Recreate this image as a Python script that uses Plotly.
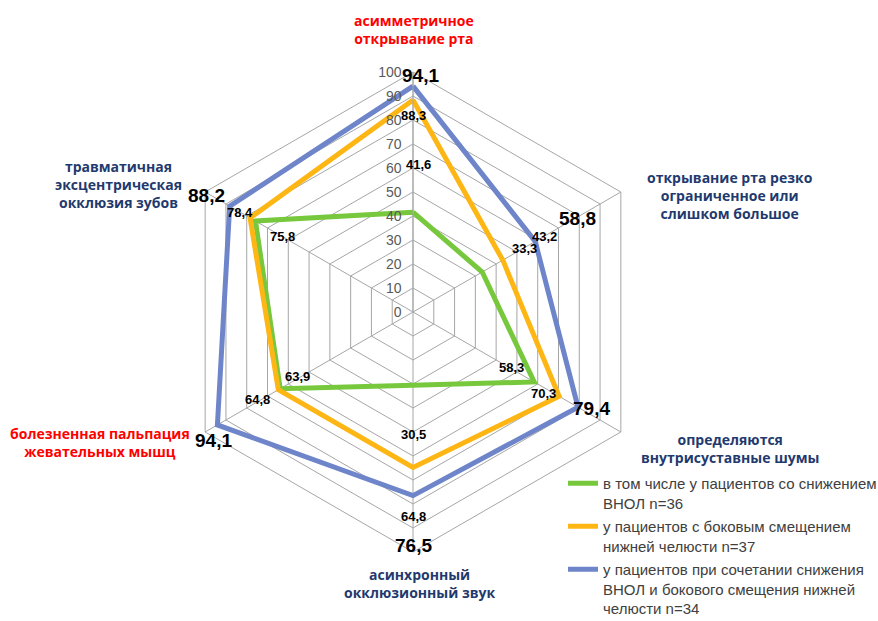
import math
import plotly.graph_objects as go

# ---------------- data ----------------
categories = [
    "асимметричное открывание рта",
    "открывание рта резко ограниченное или слишком большое",
    "определяются внутрисуставные шумы",
    "асинхронный окклюзионный звук",
    "болезненная пальпация жевательных мышц",
    "травматичная эксцентрическая окклюзия зубов",
]
series_names = [
    "в том числе у пациентов со снижением<br>ВНОЛ n=36",
    "у пациентов с боковым смещением<br>нижней челюсти n=37",
    "у пациентов при сочетании снижения<br>ВНОЛ и бокового смещения нижней<br>челюсти n=34",
]
green_values = [41.6, 33.3, 58.3, 30.5, 63.9, 75.8]
orange_values = [88.3, 43.2, 70.3, 64.8, 64.8, 78.4]
blue_values = [94.1, 58.8, 79.4, 76.5, 94.1, 88.2]
radial_ticks = [0, 10, 20, 30, 40, 50, 60, 70, 80, 90, 100]

# ---------------- styles / layout ----------------
W, H = 878, 621
CX, CY, R = 413, 312, 240
colors = ["#77C83C", "#FDB614", "#6E85CA"]
angles = [90, 30, -30, -90, -150, 150]

cat_label_text = [
    "асимметричное<br>открывание рта",
    "открывание рта резко<br>ограниченное или<br>слишком большое",
    "определяются<br>внутрисуставные шумы",
    "асинхронный<br>окклюзионный звук",
    "болезненная пальпация<br>жевательных мышц",
    "травматичная<br>эксцентрическая<br>окклюзия зубов",
]
cat_label_pos = [(414, 30), (730, 195), (730, 448), (420, 583), (100, 442), (118, 184)]
cat_label_color = ["#FF0000", "#1F3A6E", "#1F3A6E", "#1F3A6E", "#FF0000", "#1F3A6E"]

# pixel offsets of value labels from their vertices
offsets = [
    [(5, -48), (42, -24), (-23, -14), (0, 49), (17, -12), (27, 15)],     # green
    [(0, 15), (42, -24), (-16, -3), (0, 49), (-21, 10), (-10, -5)],      # orange
    [(7, -11), (42, -23), (13, 1), (0, 50), (-4, 16), (-23, -11)],       # blue
]
label_sizes = [13, 13, 19]

all_values = [green_values, orange_values, blue_values]

fig = go.Figure()
for name, vals, col in zip(series_names, all_values, colors):
    fig.add_trace(go.Scatterpolar(
        r=vals + vals[:1],
        theta=categories + categories[:1],
        mode="lines",
        name=name,
        line=dict(color=col, width=5),
        legendgroup=name,
    ))

annotations = []
for txt, (px, py), col in zip(cat_label_text, cat_label_pos, cat_label_color):
    annotations.append(dict(
        x=px / W, y=1 - py / H, xref="paper", yref="paper",
        text=f"<b>{txt}</b>", showarrow=False, align="center",
        font=dict(family="Open Sans", size=14, color=col),
        xanchor="center", yanchor="middle",
    ))

for si, vals in enumerate(all_values):
    for ci, v in enumerate(vals):
        a = math.radians(angles[ci])
        px = CX + R * v / 100 * math.cos(a)
        py = CY - R * v / 100 * math.sin(a)
        dx, dy = offsets[si][ci]
        annotations.append(dict(
            x=(px + dx) / W, y=1 - (py + dy) / H, xref="paper", yref="paper",
            text=f"<b>{str(v).replace('.', ',')}</b>", showarrow=False,
            font=dict(family="Liberation Sans", size=label_sizes[si], color="#000000"),
            xanchor="center", yanchor="middle",
        ))

fig.update_layout(
    width=W, height=H,
    margin=dict(l=0, r=0, t=0, b=0, autoexpand=False),
    paper_bgcolor="white",
    plot_bgcolor="white",
    polar=dict(
        domain=dict(x=[(CX - R) / W, (CX + R) / W], y=[(H - CY - R) / H, (H - CY + R) / H]),
        gridshape="linear",
        bgcolor="white",
        radialaxis=dict(
            range=[0, 100], tickvals=radial_ticks, ticktext=[str(t) for t in radial_ticks],
            angle=90, tickangle=90, side="counterclockwise",
            showline=True, linecolor="#A6A6A6", linewidth=1,
            gridcolor="#A6A6A6", gridwidth=1,
            ticks="outside", ticklen=6, tickcolor="rgba(0,0,0,0)",
            tickfont=dict(family="Liberation Sans", size=14, color="#595959"),
        ),
        angularaxis=dict(
            type="category", rotation=90, direction="clockwise",
            showticklabels=False, ticks="",
            showline=True, linecolor="#A6A6A6", linewidth=1,
            gridcolor="#A6A6A6", gridwidth=1,
        ),
    ),
    showlegend=True,
    legend=dict(
        x=563 / W, y=1 - 467 / H, xanchor="left", yanchor="top",
        font=dict(family="Liberation Sans", size=15, color="#404040"),
        traceorder="grouped", tracegroupgap=1, valign="top",
        itemwidth=30, bgcolor="rgba(0,0,0,0)",
    ),
    annotations=annotations,
)

fig.write_html("out.html")
